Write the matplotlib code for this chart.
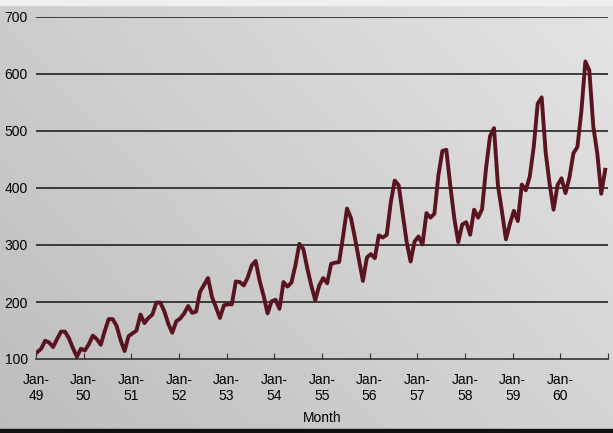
import numpy as np
import matplotlib.pyplot as plt

plt.rcParams['font.family'] = ['Liberation Sans', 'DejaVu Sans']

years = list(range(49, 61))
passengers = [
    112, 118, 132, 129, 121, 135, 148, 148, 136, 119, 104, 118,
    115, 126, 141, 135, 125, 149, 170, 170, 158, 133, 114, 140,
    145, 150, 178, 163, 172, 178, 199, 199, 184, 162, 146, 166,
    171, 180, 193, 181, 183, 218, 230, 242, 209, 191, 172, 194,
    196, 196, 236, 235, 229, 243, 264, 272, 237, 211, 180, 201,
    204, 188, 235, 227, 234, 264, 302, 293, 259, 229, 203, 229,
    242, 233, 267, 269, 270, 315, 364, 347, 312, 274, 237, 278,
    284, 277, 317, 313, 318, 374, 413, 405, 355, 306, 271, 306,
    315, 301, 356, 348, 355, 422, 465, 467, 404, 347, 305, 336,
    340, 318, 362, 348, 363, 435, 491, 505, 404, 359, 310, 337,
    360, 342, 406, 396, 420, 472, 548, 559, 463, 407, 362, 405,
    417, 391, 419, 461, 472, 535, 622, 606, 508, 461, 390, 432,
]
yticks = [100, 200, 300, 400, 500, 600, 700]

fig = plt.figure(figsize=(6.13, 4.33), dpi=100)

# photo-like gray background gradient
bg = fig.add_axes([0, 0, 1, 1], zorder=-10)
gx, gy = np.meshgrid(np.linspace(0, 1, 200), np.linspace(0, 1, 200))
grad = 0.74 + 0.09 * gx + 0.06 * gy
bg.imshow(grad, cmap='gray', vmin=0, vmax=1, extent=[0, 1, 0, 1], aspect='auto', origin='lower')
bg.axhspan(0.988, 1, color='#efefef')
bg.axhspan(0, 0.009, color='#111111')
bg.set_xlim(0, 1)
bg.set_ylim(0, 1)
bg.axis('off')

ax = fig.add_axes([36 / 613, 74 / 433, 572 / 613, 342 / 433])
ax.patch.set_alpha(0)
x = np.arange(len(passengers)) + 0.3
ax.plot(x, passengers, color='#5a1420', lw=2.8, solid_joinstyle='round', zorder=3)

ax.set_xlim(0, 144)
ax.set_ylim(100, 700)
ax.set_yticks(yticks)
for v in yticks[1:]:
    ax.axhline(v, color='#222222', lw=1.2, zorder=1)
ax.set_xticks(np.arange(0, 145, 12))
ax.set_xticklabels(['Jan-\n%d' % y for y in years] + [''])
ax.tick_params(axis='x', direction='in', length=4, color='#333333', labelsize=10, pad=10)
ax.tick_params(axis='y', length=0, labelsize=10, pad=6)
for s in ['top', 'right', 'left']:
    ax.spines[s].set_visible(False)
ax.spines['bottom'].set_color('#333333')
ax.spines['bottom'].set_linewidth(1.2)
ax.set_xlabel('Month', fontsize=10, labelpad=6)

fig.savefig('out.png', dpi=100)
